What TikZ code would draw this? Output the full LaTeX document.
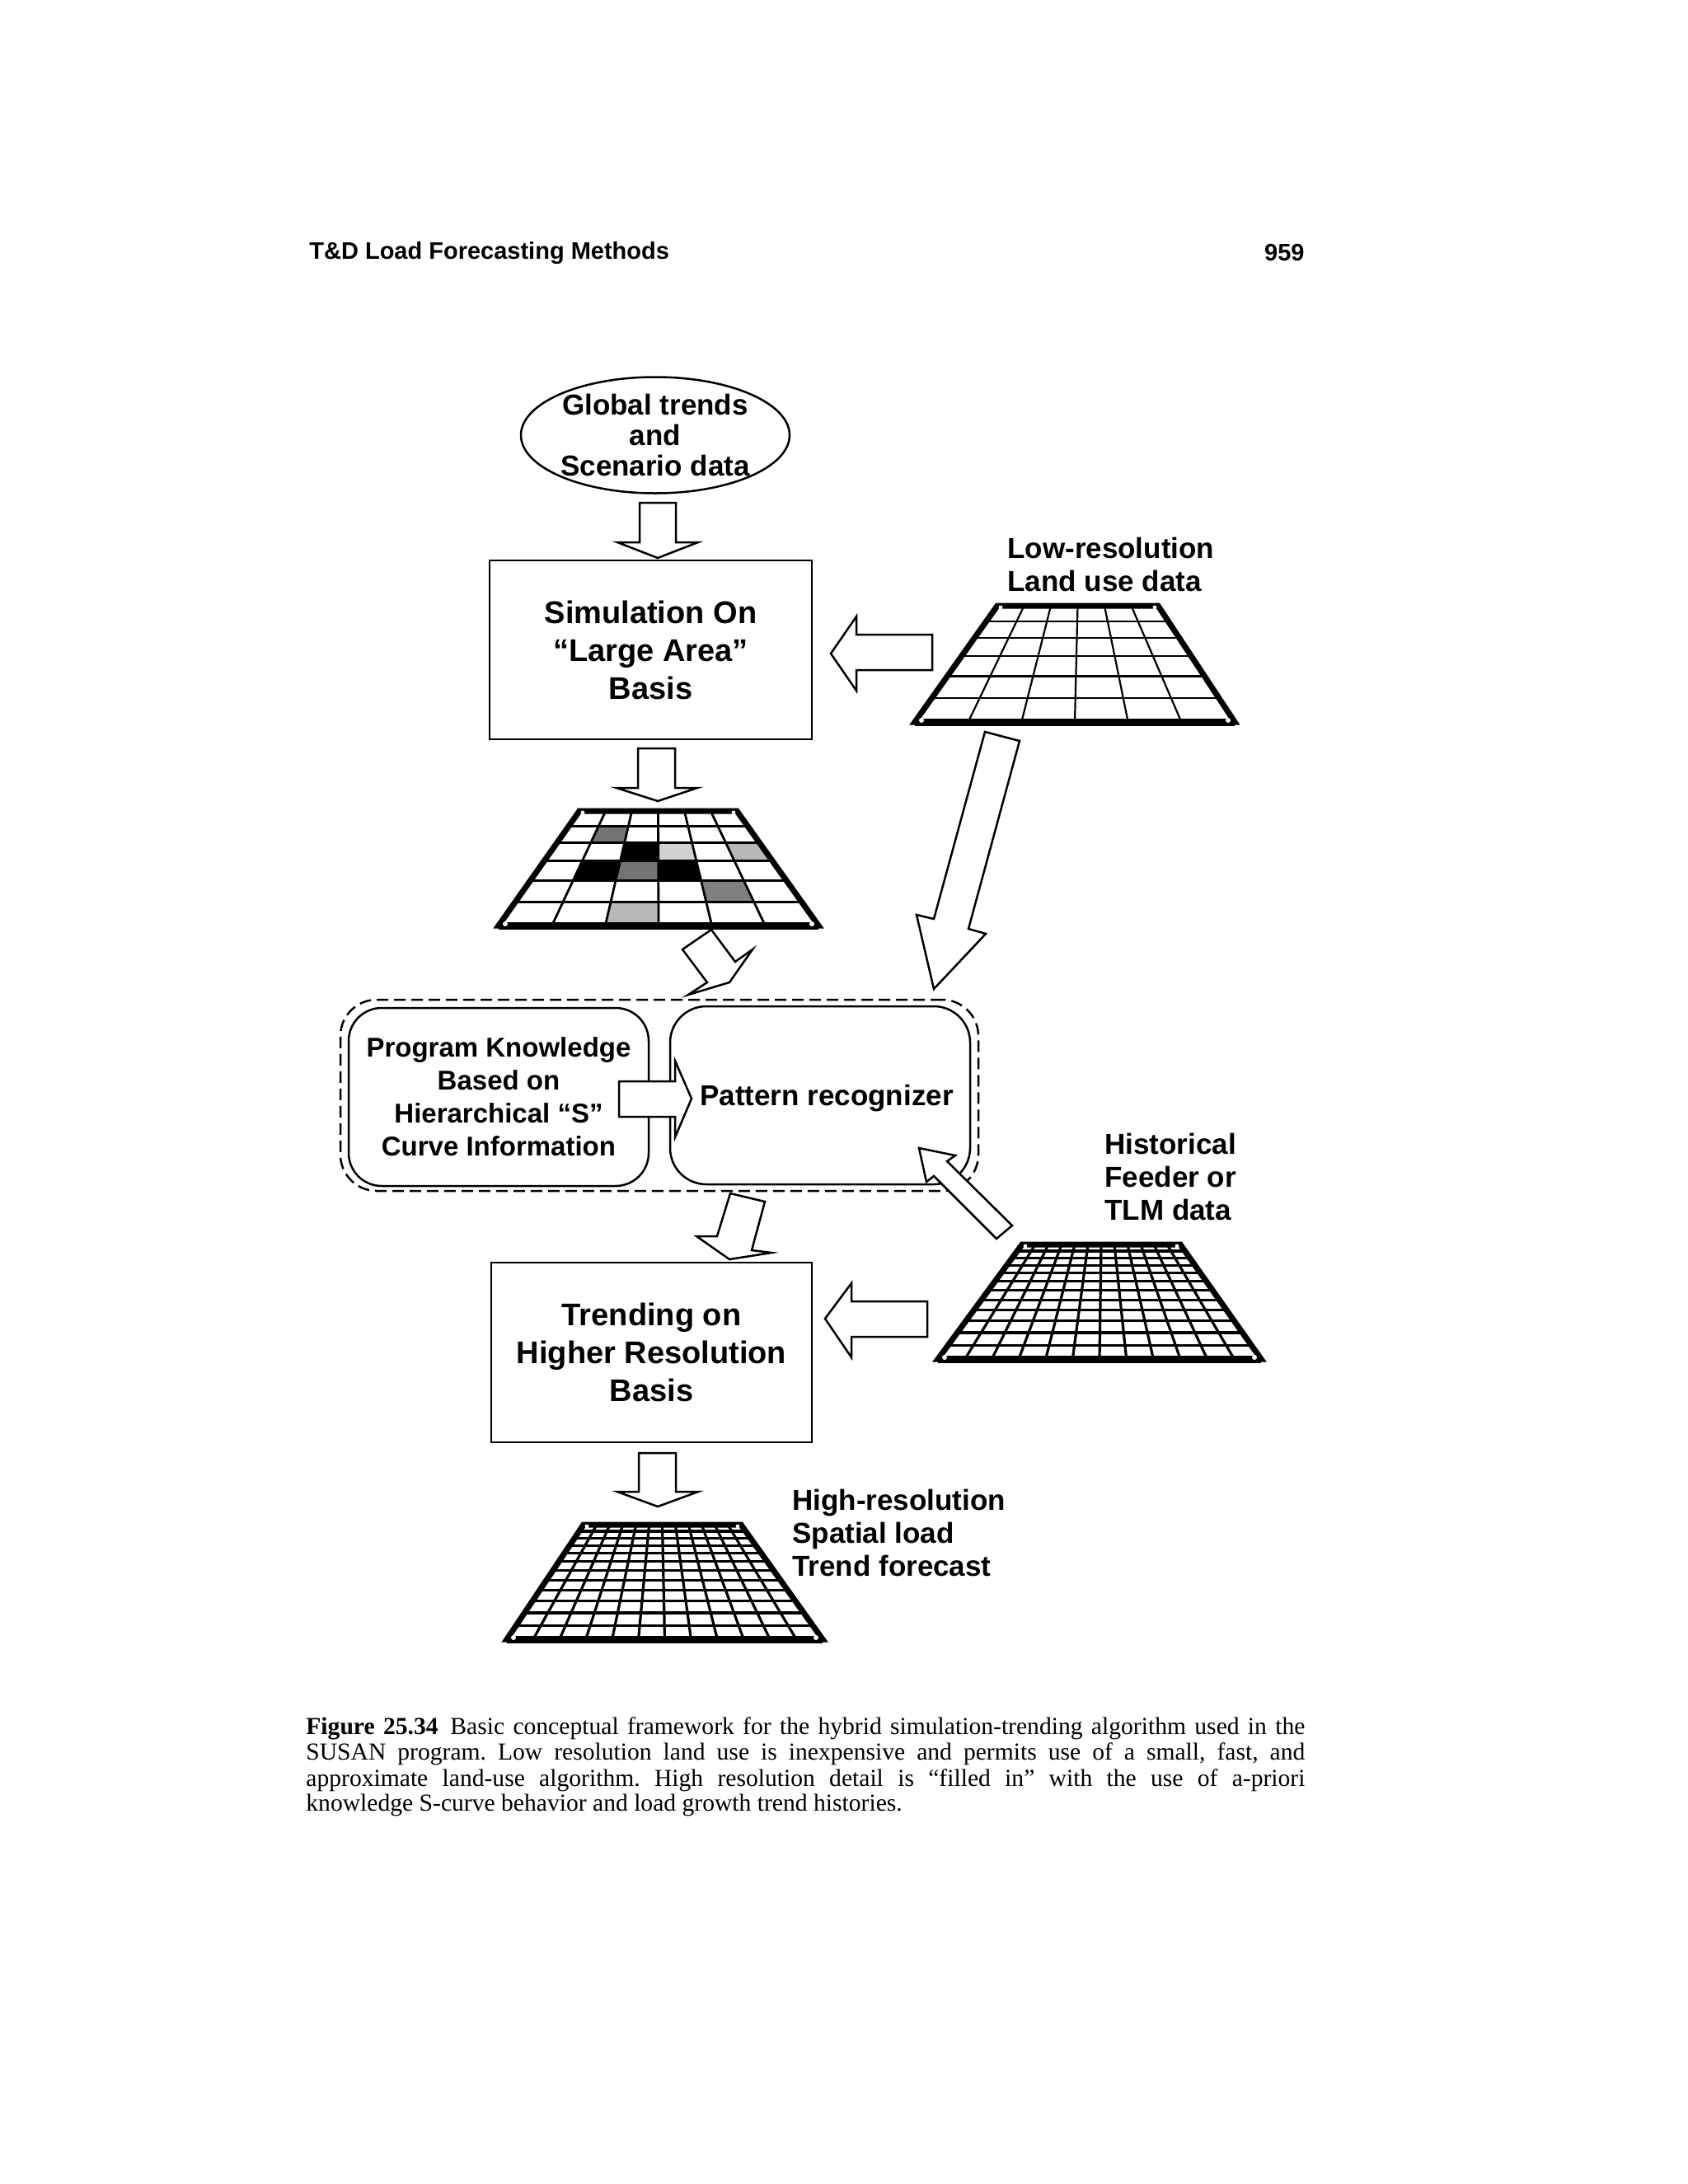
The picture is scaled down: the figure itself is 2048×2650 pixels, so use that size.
\documentclass[tikz,border=0pt]{standalone}
\usepackage{fontspec}
\setmainfont{Liberation Serif}
\setsansfont{Liberation Sans}
\usetikzlibrary{shapes.geometric}
\newcommand{\pgridlines}[8]{%
  \pgfmathtruncatemacro\gridN{#7-1}%
  \foreach \gk in {1,...,\gridN}{%
    \pgfmathsetmacro\gS{\gk/#7}%
    \pgfmathsetmacro\gV{\gS/(#8-(#8-1)*\gS)}%
    \pgfmathsetmacro\gY{#1+\gV*(#2-#1)}%
    \pgfmathsetmacro\gXl{#3+\gV*(#5-#3)}%
    \pgfmathsetmacro\gXr{#4+\gV*(#6-#4)}%
    \draw (\gXl,\gY) -- (\gXr,\gY);
    \pgfmathsetmacro\gXt{#3+\gS*(#4-#3)}%
    \pgfmathsetmacro\gXb{#5+\gS*(#6-#5)}%
    \draw (\gXt,#1) -- (\gXb,#2);
  }%
  \draw[gridborder] (#3,#1) -- (#4,#1) -- (#6,#2) -- (#5,#2) -- cycle;
  \draw[gridbottom] (#5,#2) -- (#6,#2);
  \fill[white] ({#3+4},{#1+2}) circle (1.2pt) ({#4-4},{#1+2}) circle (1.2pt)
               ({#5+8},{#2-2}) circle (1.5pt) ({#6-8},{#2-2}) circle (1.5pt);
}
\newcommand{\gcell}[3]{%
  \pgfmathsetmacro\cUa{(#1-1)/6}\pgfmathsetmacro\cUb{#1/6}%
  \pgfmathsetmacro\cSa{(#2-1)/6}\pgfmathsetmacro\cSb{#2/6}%
  \pgfmathsetmacro\cVa{\cSa/(1.3-0.3*\cSa)}\pgfmathsetmacro\cVb{\cSb/(1.3-0.3*\cSb)}%
  \fill[#3] ({703-98*\cVa+\cUa*(191+197*\cVa)},{984+139*\cVa})
    -- ({703-98*\cVa+\cUb*(191+197*\cVa)},{984+139*\cVa})
    -- ({703-98*\cVb+\cUb*(191+197*\cVb)},{984+139*\cVb})
    -- ({703-98*\cVb+\cUa*(191+197*\cVb)},{984+139*\cVb}) -- cycle;
}
\begin{document}
\frenchspacing
\begin{tikzpicture}[x=0.5pt,y=-0.5pt,
  boxstyle/.style={draw, line width=1.25pt, inner sep=0pt, align=center,
     font=\sffamily\bfseries\fontsize{19}{23}\selectfont},
  rbox/.style={draw, line width=1.25pt, inner sep=0pt, align=center, rounded corners=20pt},
  lbl/.style={inner sep=0pt, align=left, anchor=west,
     font=\sffamily\bfseries\fontsize{17.5}{20}\selectfont},
  blk/.style={draw, fill=white, line width=1.25pt, line join=miter},
  gridborder/.style={line width=3.5pt, line join=miter},
  gridbottom/.style={line width=4.5pt},
  capline/.style={inner sep=0pt, anchor=west, font=\rmfamily\fontsize{14.8}{15.5}\selectfont}]
\useasboundingbox[fill=white] (0,0) rectangle (2048,2650);

% header
\node[inner sep=0pt, anchor=west, font=\sffamily\bfseries\fontsize{14.5}{17}\selectfont] (hdr) at (375,307) {T\&D Load Forecasting Methods};
\node[inner sep=0pt, anchor=east, font=\sffamily\bfseries\fontsize{14.5}{17}\selectfont] (pg) at (1583,307) {959};

% ellipse
\node[ellipse, draw, line width=1.25pt, minimum width=163pt, minimum height=69pt, inner sep=0pt,
  align=center, font=\sffamily\bfseries\fontsize{17.5}{18.5}\selectfont] (glob) at (795,528) {Global trends\\and\\Scenario data};

% simulation box
\node[boxstyle, minimum width=195.5pt, minimum height=108.5pt] (sim) at (789.5,788.5) {Simulation On\\“Large Area”\\Basis};

% low-resolution label and grid
\node[lbl] (lowlbl) at (1222,685) {Low-resolution\\Land use data};
\begin{scope}[line width=1.1pt]
\pgridlines{735}{876}{1210}{1405}{1110}{1498}{6}{1.3}
\end{scope}

% simulated grid with shaded cells
\gcell{2}{2}{black!55}
\gcell{3}{3}{black}
\gcell{4}{3}{black!18}
\gcell{6}{3}{black!28}
\gcell{2}{4}{black}
\gcell{3}{4}{black!55}
\gcell{4}{4}{black}
\gcell{5}{5}{black!50}
\gcell{3}{6}{black!28}
\begin{scope}[line width=1.4pt]
\pgridlines{984}{1123}{703}{894}{605}{993}{6}{1.3}
\end{scope}

% dashed group and rounded boxes
\node[draw, dash pattern=on 7pt off 3.5pt, line width=1.25pt, rounded corners=22pt,
  minimum width=387pt, minimum height=116pt, inner sep=0pt] (grp) at (800,1329) {};
\node[rbox, minimum width=182pt, minimum height=108pt,
  font=\sffamily\bfseries\fontsize{16.5}{20}\selectfont] (know) at (605,1331)
  {Program Knowledge\\Based on\\Hierarchical “S”\\Curve Information};
\node[rbox, rounded corners=22pt, minimum width=182pt, minimum height=108pt] (pat) at (995,1329) {};
\node[inner sep=0pt, font=\sffamily\bfseries\fontsize{17.5}{20}\selectfont] (pattxt) at (1003,1333) {Pattern recognizer};

% historical label and grid
\node[lbl] (histlbl) at (1340,1428) {Historical\\Feeder or\\TLM data};
\begin{scope}[line width=1.6pt]
\pgridlines{1510}{1649}{1240}{1432}{1138}{1530}{12}{1.5}
\end{scope}

% trending box
\node[boxstyle, minimum width=194.5pt, minimum height=109pt] (trend) at (790.5,1641) {Trending on\\Higher Resolution\\Basis};

% forecast label and grid
\node[lbl] (fclbl) at (961,1860) {High-resolution\\Spatial load\\Trend forecast};
\begin{scope}[line width=1.6pt]
\pgridlines{1850}{1989}{708}{899}{615}{998}{12}{1.5}
\end{scope}

% block arrows
\draw[blk] (776,610) -- (820,610) -- (820,658) -- (847,658) -- (798,677) -- (749,658) -- (776,658) -- cycle;
\draw[blk] (774,908) -- (819,908) -- (819,956) -- (846,956) -- (798,972) -- (748,956) -- (774,956) -- cycle;
\draw[blk] (1131,770) -- (1131,813) -- (1039,813) -- (1039,838) -- (1008,793) -- (1039,748) -- (1039,770) -- cycle;
\draw[blk] (863,1128) -- (828,1152) -- (858,1192) -- (835,1207) -- (885,1192) -- (913,1152) -- (892,1167) -- cycle;
\draw[blk] (1195,888) -- (1237,899) -- (1175,1127) -- (1196,1133) -- (1133,1200) -- (1112,1110) -- (1133,1115) -- cycle;
\draw[blk] (751,1312) -- (819,1312) -- (819,1287) -- (839,1333) -- (819,1380) -- (819,1355) -- (751,1355) -- cycle;
\draw[blk] (1115,1393) -- (1159,1402) -- (1149,1409) -- (1228,1487) -- (1209,1503) -- (1133,1427) -- (1124,1434) -- cycle;
\draw[blk] (886,1448) -- (928,1458) -- (912,1517) -- (936,1520) -- (885,1528) -- (845,1500) -- (870,1500) -- cycle;
\draw[blk] (1125,1579) -- (1125,1622) -- (1033,1622) -- (1033,1647) -- (1001,1600) -- (1033,1557) -- (1033,1579) -- cycle;
\draw[blk] (775,1763) -- (820,1763) -- (820,1810) -- (847,1810) -- (798,1828) -- (749,1810) -- (775,1810) -- cycle;

% caption
\node[capline] (cap1) at (371,2097) {\hbox to 606pt{\textbf{Figure 25.34}\enspace Basic conceptual framework for the hybrid simulation-trending algorithm used in the}};
\node[capline] (cap2) at (371,2128) {\hbox to 606pt{SUSAN program. Low resolution land use is inexpensive and permits use of a small, fast, and}};
\node[capline] (cap3) at (371,2160) {\hbox to 606pt{approximate land-use algorithm. High resolution detail is “filled in” with the use of a-priori}};
\node[capline] (cap4) at (371,2190) {knowledge S-curve behavior and load growth trend histories.};
\end{tikzpicture}
\end{document}
